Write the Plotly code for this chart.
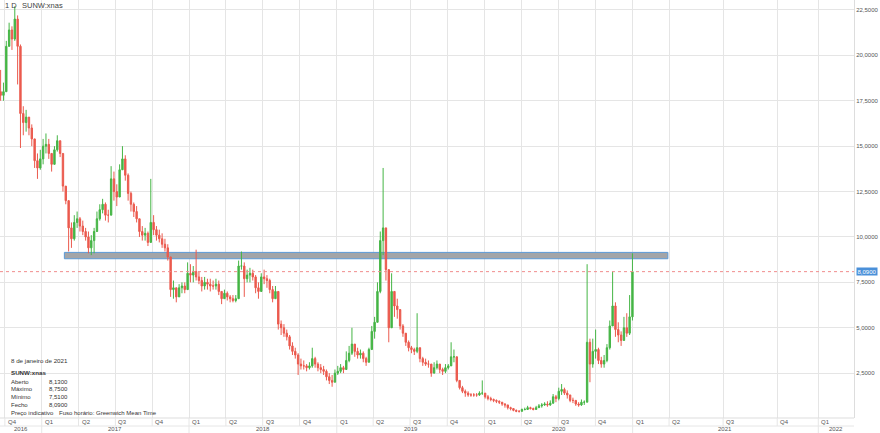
import datetime as dt
import numpy as np
import plotly.graph_objects as go

# ---------------- data (weekly candles) ----------------
first_open = 18.0
week_close = [
    17.8, 18.0, 20.5, 21.4, 20.9, 22.0, 20.5, 16.8, 16.3, 16.6,
    16.0, 15.4, 14.2, 13.8, 14.3, 15.0, 15.1, 14.6, 14.0, 14.8,
    15.3, 14.6, 12.8, 12.0, 10.5, 9.9, 10.8, 11.0, 10.6, 10.3,
    10.0, 9.4, 9.8, 10.3, 11.0, 11.5, 11.8, 11.2, 11.2, 13.2,
    12.5, 12.2, 13.7, 14.3, 13.4, 12.4, 11.8, 11.4, 11.0, 10.3,
    10.1, 10.2, 9.7, 10.8, 10.4, 10.1, 9.9, 9.6, 9.4, 8.9,
    7.1, 7.2, 6.7, 7.2, 7.3, 7.1, 8.0, 7.9, 8.1, 7.8,
    7.6, 7.3, 7.5, 7.4, 7.3, 7.3, 7.4, 7.0, 6.6, 6.9,
    6.7, 6.6, 6.5, 6.6, 8.4, 8.4, 7.7, 7.9, 8.0, 7.8,
    7.2, 7.0, 7.8, 7.7, 7.6, 7.1, 6.6, 7.0, 5.2, 5.0,
    4.7, 4.5, 4.0, 3.7, 3.5, 3.0, 2.9, 2.9, 2.8, 2.9,
    3.3, 3.0, 2.8, 2.7, 2.6, 2.3, 2.1, 2.0, 2.5, 2.6,
    2.8, 2.7, 3.2, 3.6, 4.1, 3.7, 3.5, 3.6, 3.3, 3.1,
    3.8, 4.8, 5.3, 7.0, 9.8, 10.5, 8.2, 5.0, 7.0, 6.2,
    6.0, 5.1, 4.7, 4.2, 3.9, 3.8, 3.7, 3.9, 3.3, 3.1,
    3.0, 3.0, 2.5, 2.8, 3.0, 2.7, 2.6, 2.8, 2.9, 3.4,
    3.4, 2.1, 1.7, 1.5, 1.4, 1.3, 1.3, 1.3, 1.3, 1.4,
    1.4, 1.2, 1.1, 1.05, 1.0, 0.95, 0.9, 0.8, 0.75, 0.6,
    0.55, 0.45, 0.4, 0.4, 0.5, 0.5, 0.6, 0.55, 0.5, 0.6,
    0.7, 0.75, 0.8, 0.75, 0.85, 1.2, 1.1, 1.5, 1.6, 1.4,
    1.3, 1.0, 1.0, 0.8, 0.75, 0.9, 0.9, 4.2, 3.0, 3.7,
    3.8, 3.2, 3.0, 3.2, 3.9, 5.1, 6.2, 4.9, 4.6, 4.3,
    5.0, 4.7, 5.6, 8.09,
]
week_high = [
    19.2, 18.5, 20.8, 21.8, 21.6, 22.7, 22.2, 20.6, 17.2, 17.0,
    16.6, 16.2, 15.2, 14.6, 14.8, 15.4, 15.7, 15.4, 14.6, 15.0,
    15.6, 15.3, 14.6, 12.8, 11.5, 10.8, 11.2, 11.4, 11.1, 10.9,
    10.5, 10.3, 10.1, 10.5, 11.4, 11.8, 12.1, 11.9, 11.5, 13.9,
    13.6, 12.9, 14.0, 15.0, 14.5, 13.5, 12.5, 11.9, 11.7, 11.0,
    10.6, 10.5, 10.3, 13.2, 11.2, 10.6, 10.4, 10.2, 9.9, 9.6,
    8.4, 7.6, 7.2, 7.4, 7.5, 7.5, 8.6, 8.5, 8.4, 9.3,
    8.1, 7.8, 7.8, 7.7, 7.7, 7.6, 7.7, 7.6, 7.0, 7.1,
    7.0, 6.8, 6.8, 6.8, 8.7, 9.2, 8.6, 8.2, 8.3, 8.2,
    7.9, 7.5, 8.0, 8.2, 7.9, 7.7, 7.3, 7.3, 6.5, 5.4,
    5.2, 4.9, 4.6, 4.2, 3.9, 3.6, 3.3, 3.2, 3.0, 3.1,
    3.9, 3.4, 3.1, 3.0, 2.9, 2.7, 2.5, 2.4, 2.7, 2.9,
    3.0, 2.9, 3.7, 4.0, 5.0, 4.1, 3.9, 3.8, 3.7, 3.4,
    3.9, 5.1, 5.6, 7.5, 10.3, 13.8, 9.8, 7.5, 8.0, 6.8,
    6.6, 5.9, 5.2, 4.6, 4.3, 4.0, 3.9, 5.8, 3.7, 3.4,
    3.3, 3.2, 2.9, 3.1, 3.2, 3.0, 2.8, 3.0, 3.0, 4.2,
    3.8, 2.4, 2.0, 1.8, 1.6, 1.5, 1.4, 1.4, 1.4, 1.5,
    2.1, 1.4, 1.3, 1.2, 1.1, 1.05, 1.0, 0.9, 0.85, 0.75,
    0.65, 0.55, 0.5, 0.45, 0.55, 0.6, 0.7, 0.65, 0.6, 0.7,
    0.8, 0.85, 0.9, 0.95, 1.0, 1.35, 1.3, 1.7, 1.9, 1.7,
    1.55, 1.3, 1.15, 1.0, 0.9, 1.05, 1.0, 8.5, 4.4, 4.4,
    4.9, 3.9, 3.4, 3.5, 4.1, 5.4, 8.1, 6.4, 5.3, 4.8,
    5.6, 5.8, 6.8, 9.1,
]
week_low = [
    17.5, 17.5, 18.0, 20.6, 20.3, 20.8, 18.4, 14.9, 15.6, 15.8,
    15.6, 15.0, 13.8, 13.2, 13.7, 14.0, 14.6, 14.3, 13.6, 14.0,
    14.7, 14.4, 12.5, 11.8, 9.2, 9.4, 9.8, 10.5, 10.3, 10.1,
    9.8, 9.1, 9.0, 9.1, 10.3, 10.9, 11.3, 10.9, 10.8, 11.2,
    12.0, 11.7, 12.2, 13.8, 13.1, 12.0, 11.4, 11.1, 10.8, 10.0,
    9.8, 9.8, 9.5, 9.7, 10.1, 9.8, 9.7, 9.4, 9.2, 8.7,
    6.7, 6.6, 6.4, 6.7, 6.9, 6.9, 7.2, 7.5, 7.5, 7.6,
    7.4, 7.0, 7.1, 7.1, 7.0, 7.1, 7.1, 6.8, 6.3, 6.6,
    6.5, 6.4, 6.4, 6.4, 6.6, 8.2, 6.7, 7.5, 7.5, 7.6,
    6.9, 6.6, 7.0, 7.4, 7.2, 6.9, 6.4, 6.6, 4.9, 4.6,
    4.5, 4.3, 3.8, 3.5, 3.3, 2.4, 2.7, 2.7, 2.6, 2.7,
    2.8, 2.8, 2.6, 2.5, 2.4, 2.1, 1.9, 1.75, 2.0, 2.4,
    2.5, 2.5, 2.7, 3.1, 3.5, 3.4, 3.3, 3.3, 3.1, 2.9,
    3.1, 3.8, 4.4, 5.3, 6.9, 9.0, 7.6, 4.2, 5.0, 5.6,
    5.5, 4.9, 4.5, 4.0, 3.7, 3.6, 3.5, 3.6, 3.1, 2.9,
    2.9, 2.8, 2.3, 2.5, 2.7, 2.5, 2.4, 2.5, 2.7, 2.9,
    3.1, 2.0, 1.6, 1.4, 1.2, 1.2, 1.2, 1.2, 1.2, 1.25,
    1.3, 1.1, 1.0, 0.95, 0.9, 0.85, 0.8, 0.7, 0.6, 0.5,
    0.45, 0.4, 0.35, 0.33, 0.38, 0.45, 0.5, 0.5, 0.45, 0.5,
    0.6, 0.6, 0.7, 0.65, 0.7, 0.8, 0.9, 1.0, 1.3, 1.3,
    1.1, 0.9, 0.85, 0.7, 0.65, 0.7, 0.75, 0.9, 2.0, 2.8,
    3.3, 3.0, 2.8, 2.8, 3.1, 3.8, 5.1, 4.5, 4.2, 4.0,
    4.3, 4.5, 4.6, 5.4,
]

first_week = dt.date(2016, 9, 19)
quarter_dates = [
    dt.date(2016, 10, 3), dt.date(2017, 1, 2), dt.date(2017, 4, 3), dt.date(2017, 7, 3),
    dt.date(2017, 10, 2), dt.date(2018, 1, 1), dt.date(2018, 4, 2), dt.date(2018, 7, 2),
    dt.date(2018, 10, 1), dt.date(2019, 1, 1), dt.date(2019, 4, 1), dt.date(2019, 7, 1),
    dt.date(2019, 10, 1), dt.date(2020, 1, 1), dt.date(2020, 4, 1), dt.date(2020, 7, 1),
    dt.date(2020, 10, 1), dt.date(2021, 1, 1), dt.date(2021, 4, 1),
]
quarter_labels_hist = ["Q4", "Q1", "Q2", "Q3", "Q4", "Q1", "Q2", "Q3", "Q4", "Q1",
                       "Q2", "Q3", "Q4", "Q1", "Q2", "Q3", "Q4", "Q1", "Q2"]
# future part of the time axis (drawn wider by the source chart)
future_quarter_pos = [255.0, 274.1, 288.6]
future_quarter_labels = ["Q3", "Q4", "Q1"]
year_labels = ["2016", "2017", "2018", "2019", "2020", "2021", "2022"]

y_ticks = [2.5, 5.0, 7.5, 10.0, 12.5, 15.0, 17.5, 20.0, 22.5]
zone_low, zone_high = 8.8, 9.15
zone_start, zone_end = dt.date(2017, 2, 27), dt.date(2021, 3, 29)
last_price = 8.09
info_rows = [("Aberto", "8,1300"), ("Máximo", "8,7500"), ("Mínimo", "7,5100"), ("Fecho", "8,0900")]

# ---------------- derived ----------------
def wpos(d):
    return (d - first_week).days / 7.0 - 0.5

x = np.arange(len(week_close))
opens = [first_open] + week_close[:-1]
q_pos = [wpos(d) for d in quarter_dates] + future_quarter_pos
q_lab = quarter_labels_hist + future_quarter_labels
x_min, x_max = -0.22, 301.2
year_bounds = [x_min] + [p for p, l in zip(q_pos, q_lab) if l == "Q1"] + [x_max]

W, H = 880, 433
ML, MR, MT, MB = 0, 26, 0, 15
PH = H - MT - MB
PW = W - ML - MR
def py(px_below):  # pixels below plot bottom -> paper y
    return -px_below / PH
def pyt(px_from_top):
    return 1 - px_from_top / PH
def pxp(px):
    return px / PW

GREEN = "#45b545"
RED = "#eb5a4e"
GRID = "#e5e5e5"
TXT = "#555555"
FONT = "Liberation Sans"

fig = go.Figure(go.Candlestick(
    x=x, open=opens, high=week_high, low=week_low, close=week_close,
    increasing=dict(line=dict(color=GREEN, width=1), fillcolor=GREEN),
    decreasing=dict(line=dict(color=RED, width=1), fillcolor=RED),
    whiskerwidth=0, showlegend=False, hoverinfo="skip",
))

shapes = []
# resistance zone
shapes.append(dict(type="rect", xref="x", yref="y", x0=wpos(zone_start), x1=wpos(zone_end),
                   y0=zone_low, y1=zone_high, fillcolor="#a3a5a8", opacity=1,
                   line=dict(color="#5b9ad6", width=1), layer="between"))
# last price dashed line
shapes.append(dict(type="line", xref="paper", yref="y", x0=0, x1=1, y0=last_price, y1=last_price,
                   line=dict(color="#f08c8c", width=1, dash="3px,3px"), layer="above"))
# axis rows
shapes.append(dict(type="line", xref="paper", yref="paper", x0=0, x1=1, y0=0, y1=0,
                   line=dict(color="#dddddd", width=1)))
shapes.append(dict(type="line", xref="paper", yref="paper", x0=0, x1=1, y0=py(8), y1=py(8),
                   line=dict(color="#e6e6e6", width=1)))
for p in q_pos:
    shapes.append(dict(type="line", xref="x", yref="paper", x0=p, x1=p, y0=py(8), y1=0,
                       line=dict(color="#e6e6e6", width=1)))
for p in year_bounds[1:-1]:
    shapes.append(dict(type="line", xref="x", yref="paper", x0=p, x1=p, y0=py(15), y1=py(8),
                       line=dict(color="#e6e6e6", width=1)))

ann = []
for p, l in zip(q_pos, q_lab):
    ann.append(dict(x=p, xref="x", y=py(3.5), yref="paper", text=l, showarrow=False,
                    xanchor="left", yanchor="middle", xshift=1,
                    font=dict(family=FONT, size=6, color=TXT)))
for i, lab in enumerate(year_labels):
    mid = (year_bounds[i] + year_bounds[i + 1]) / 2
    ann.append(dict(x=mid, xref="x", y=py(11.5), yref="paper", text=lab, showarrow=False,
                    xanchor="center", yanchor="middle",
                    font=dict(family=FONT, size=6, color=TXT)))
# header
ann.append(dict(x=pxp(3), xref="paper", y=pyt(6), yref="paper", text="1 D", showarrow=False,
                xanchor="left", yanchor="middle", font=dict(family=FONT, size=7.5, color="#444")))
ann.append(dict(x=pxp(20), xref="paper", y=pyt(6), yref="paper", text="SUNW:xnas", showarrow=False,
                xanchor="left", yanchor="middle", font=dict(family=FONT, size=7.5, color="#444")))
# info block
ann.append(dict(x=pxp(9), xref="paper", y=pyt(360.7), yref="paper", text="8 de janeiro de 2021",
                showarrow=False, xanchor="left", yanchor="middle",
                font=dict(family=FONT, size=6.2, color="#333")))
ann.append(dict(x=pxp(9), xref="paper", y=pyt(372.5), yref="paper", text="<b>SUNW:xnas</b>",
                showarrow=False, xanchor="left", yanchor="middle",
                font=dict(family=FONT, size=6.2, color="#333")))
for k, (lab, val) in enumerate(info_rows):
    yy = pyt(381.7 + k * 7.6)
    ann.append(dict(x=pxp(9), xref="paper", y=yy, yref="paper", text=lab, showarrow=False,
                    xanchor="left", yanchor="middle", font=dict(family=FONT, size=6, color="#333")))
    ann.append(dict(x=pxp(46.5), xref="paper", y=yy, yref="paper", text=val, showarrow=False,
                    xanchor="left", yanchor="middle", font=dict(family=FONT, size=6, color="#333")))
ann.append(dict(x=pxp(9), xref="paper", y=pyt(413), yref="paper", text="Preço indicativo",
                showarrow=False, xanchor="left", yanchor="middle",
                font=dict(family=FONT, size=6, color="#333")))
ann.append(dict(x=pxp(56.5), xref="paper", y=pyt(413), yref="paper",
                text="Fuso horário: Greenwich Mean Time", showarrow=False, xanchor="left",
                yanchor="middle", font=dict(family=FONT, size=6, color="#333")))
# last price tag
ann.append(dict(x=1, xref="paper", y=last_price, yref="y", text="8,0900", showarrow=False,
                xanchor="left", yanchor="middle", xshift=2, bgcolor="#4a90d9", borderpad=0.5,
                font=dict(family=FONT, size=6, color="white")))

fig.update_layout(
    width=W, height=H, margin=dict(l=ML, r=MR, t=MT, b=MB, pad=0, autoexpand=False),
    paper_bgcolor="white", plot_bgcolor="white", separators=",.",
    showlegend=False, shapes=shapes, annotations=ann, hovermode=False,
    xaxis=dict(range=[x_min, x_max], tickvals=q_pos, showticklabels=False, ticks="",
               showgrid=True, gridcolor=GRID, gridwidth=1, zeroline=False, automargin=False,
               rangeslider=dict(visible=False), showline=False, fixedrange=True),
    yaxis=dict(range=[0.03, 23.05], side="right", tickvals=y_ticks, tickformat=".4f",
               showgrid=True, gridcolor=GRID, gridwidth=1, zeroline=False, ticks="",
               showline=True, linecolor="#dddddd", linewidth=1, automargin=False,
               tickfont=dict(family=FONT, size=6, color=TXT), fixedrange=True),
)

fig.write_html("out.html", post_script="document.body.style.margin='0px';",
               config={"displayModeBar": False})
